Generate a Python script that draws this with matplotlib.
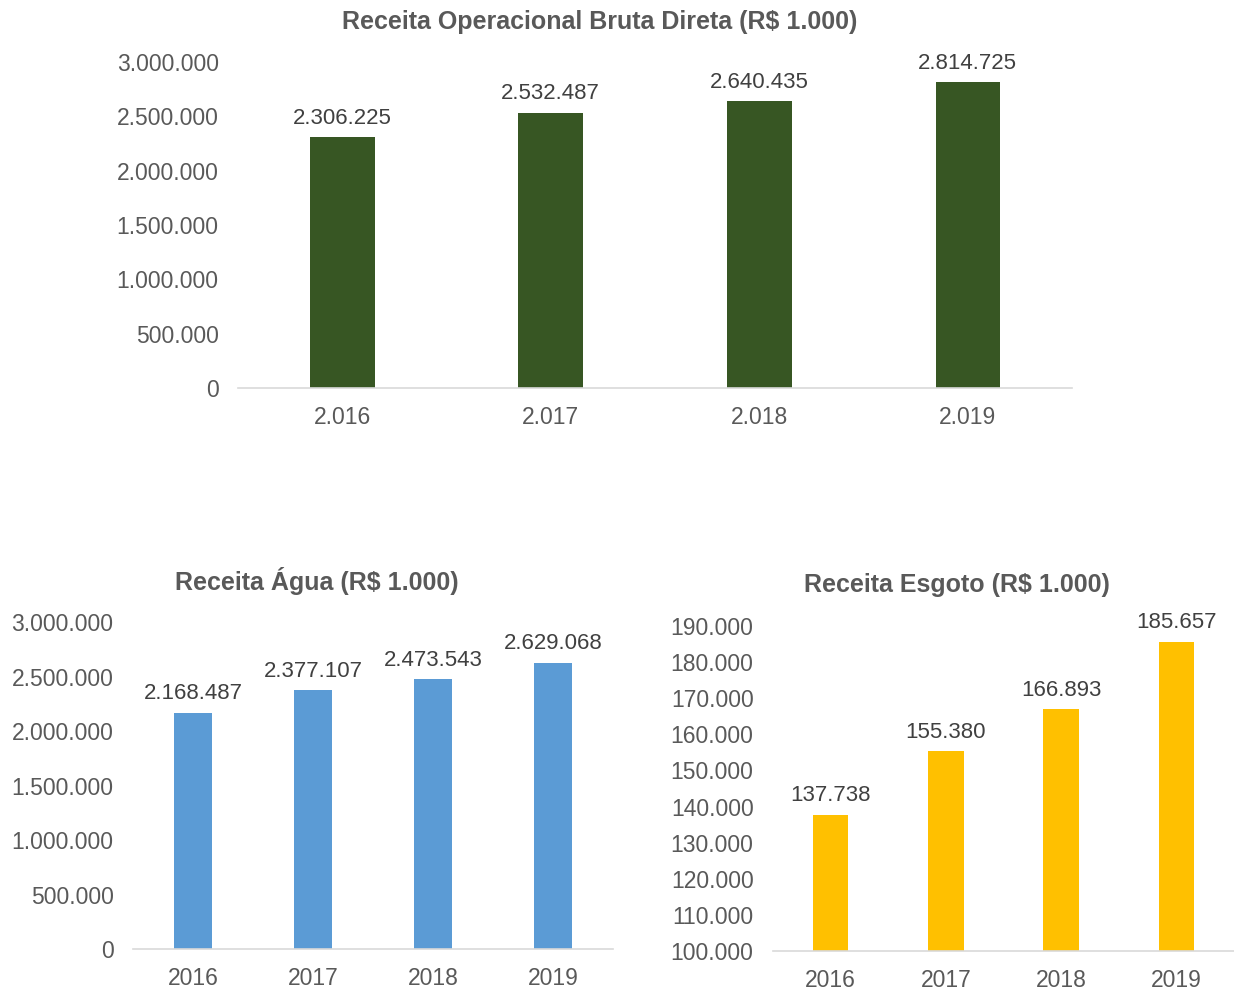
import matplotlib.pyplot as plt
from matplotlib.ticker import FuncFormatter

plt.rcParams['font.family'] = ['Liberation Sans', 'DejaVu Sans']

# -----------------------------
# Dados
# -----------------------------
anos_total = ["2.016", "2.017", "2.018", "2.019"]
receita_total = [2306225, 2532487, 2640435, 2814725]

anos = ["2016", "2017", "2018", "2019"]
receita_agua = [2168487, 2377107, 2473543, 2629068]
receita_esgoto = [137738, 155380, 166893, 185657]

TXT = "#595959"
LBL = "#404040"
W, H = 1234, 992


def fmt_br(v, pos=None):
    return f"{int(round(v)):,}".replace(",", ".")


def bar_chart(ax, cats, vals, color, ylim, step):
    x = range(len(cats))
    ax.bar(x, vals, width=0.31, color=color, bottom=0)
    ax.set_xlim(-0.5, len(cats) - 0.5)
    ax.set_ylim(*ylim)
    ax.set_yticks(range(ylim[0], ylim[1] + 1, step))
    ax.yaxis.set_major_formatter(FuncFormatter(fmt_br))
    ax.set_xticks(list(x))
    ax.set_xticklabels(cats)
    ax.tick_params(axis='both', length=0, labelsize=16.5, colors=TXT)
    ax.tick_params(axis='y', pad=14)
    ax.tick_params(axis='x', pad=13)
    for s in ['top', 'right', 'left']:
        ax.spines[s].set_visible(False)
    ax.spines['bottom'].set_color('#D9D9D9')
    ax.spines['bottom'].set_linewidth(1.2)
    for xi, v in zip(x, vals):
        ax.annotate(fmt_br(v), (xi, v), xytext=(0, 6), textcoords='offset points',
                    ha='center', va='bottom', fontsize=16, color=LBL)


def titulo(txt, px, py):
    fig.text(px / W, 1 - py / H, txt, ha='center', va='center',
             fontsize=18, fontweight='bold', color=TXT)


fig = plt.figure(figsize=(12.34, 9.92), dpi=100)

ax1 = fig.add_axes([0.1929, 0.6089, 0.6759, 0.3286])
bar_chart(ax1, anos_total, receita_total, '#375623', (0, 3000000), 500000)
titulo('Receita Operacional Bruta Direta (R$ 1.000)', 600, 22)

ax2 = fig.add_axes([0.1078, 0.0433, 0.389, 0.3296])
bar_chart(ax2, anos, receita_agua, '#5B9BD5', (0, 3000000), 500000)
titulo('Receita Água (R$ 1.000)', 317, 581)

ax3 = fig.add_axes([0.6264, 0.0413, 0.3736, 0.3276])
bar_chart(ax3, anos, receita_esgoto, '#FFC000', (100000, 190000), 10000)
titulo('Receita Esgoto (R$ 1.000)', 957, 585)

fig.savefig('out.png', dpi=100)
